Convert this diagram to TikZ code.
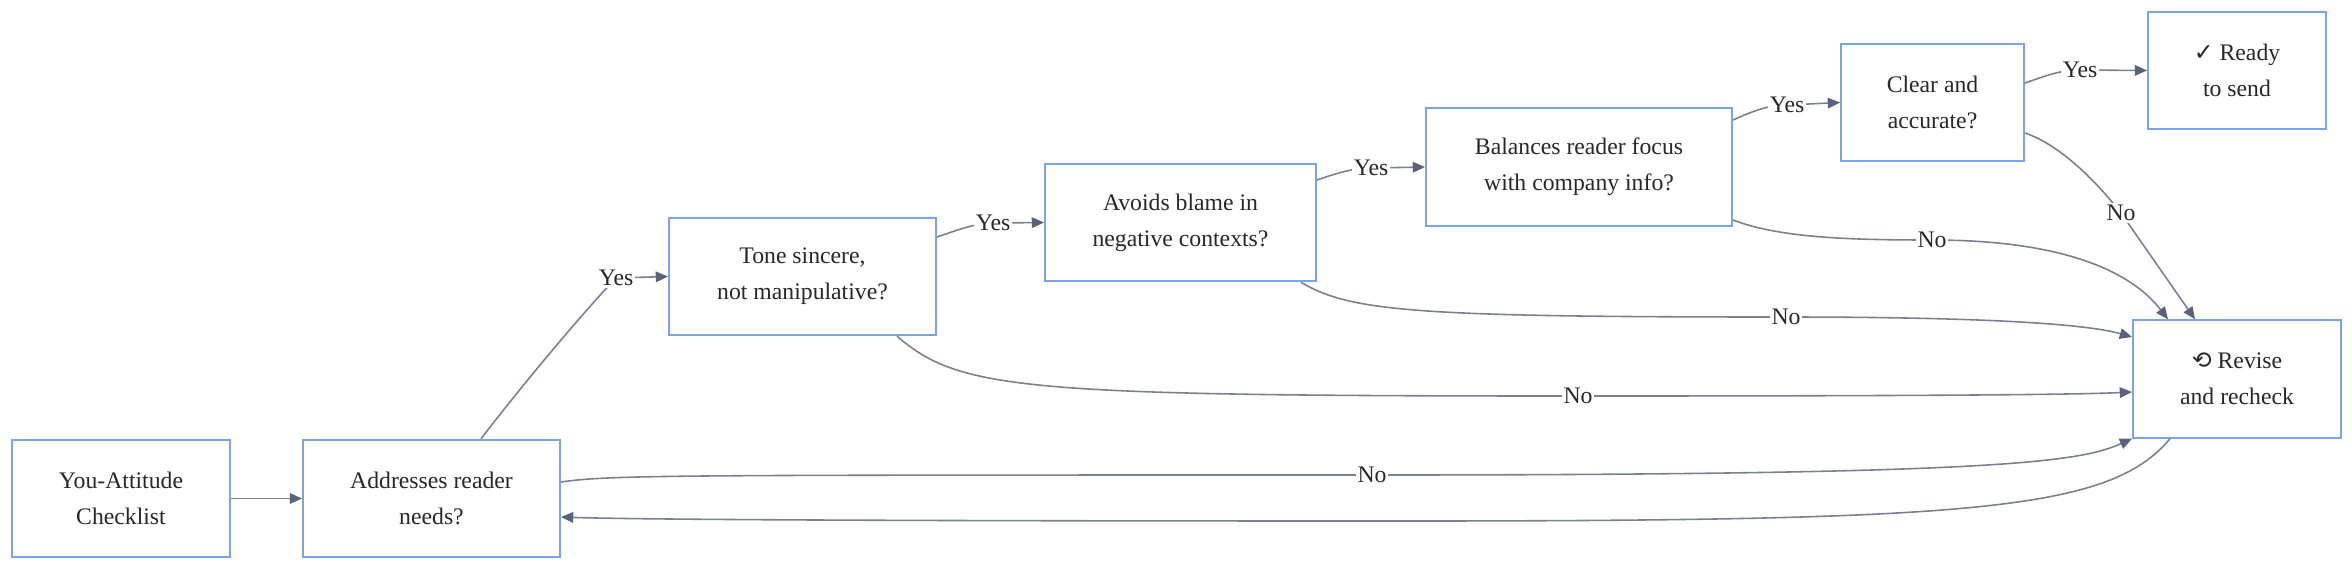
\documentclass[tikz,border=0pt]{standalone}
\usepackage{fontspec}
\setmainfont{Liberation Serif}
\newfontfamily\symfont{DejaVu Sans}
\usepackage{tikz}
\usetikzlibrary{arrows.meta,positioning,calc}
\definecolor{boxblue}{RGB}{122,162,238}
\definecolor{edgegray}{RGB}{120,128,148}
\definecolor{tipgray}{RGB}{88,98,122}
\definecolor{textgray}{RGB}{40,40,40}

\begin{document}
\begin{tikzpicture}[x=0.02cm, y=-0.02cm, >={Triangle[length=7pt,width=6pt,color=tipgray]},
  every node/.style={font=\fontsize{13.5}{20.5}\selectfont, text=textgray},
  box/.style={draw=boxblue, line width=1.1pt, fill=white, align=center, minimum height=2.35cm, inner sep=0pt},
  lbl/.style={fill=white, inner sep=1pt},
  edge/.style={->, draw=edgegray, line width=0.9pt}]
\useasboundingbox (0,0) rectangle (2352,569);
% checklist steps
\node[box, minimum width=4.36cm] (start) at (121,498.5) {You-Attitude\\Checklist};
\node[box, minimum width=5.14cm] (addr) at (431.5,498.5) {Addresses reader\\needs?};
\node[box, minimum width=5.34cm] (tone) at (802.5,276.5) {Tone sincere,\\not manipulative?};
\node[box, minimum width=5.42cm] (avoids) at (1180.5,222.5) {Avoids blame in\\negative contexts?};
\node[box, minimum width=6.12cm] (bal) at (1579,167) {Balances reader focus\\with company info?};
\node[box, minimum width=3.66cm] (clear) at (1932.5,102.5) {Clear and\\accurate?};
\node[box, minimum width=3.56cm] (ready) at (2237,70.5) {{\symfont ✓} Ready\\to send};
\node[box, minimum width=4.16cm] (revise) at (2237,379) {{\symfont ⟲} Revise\\and recheck};
% yes branch
\draw[edge] (start) -- (addr);
\draw[edge] ([xshift=0.99cm]addr.north) .. controls (530,375) and (590,305) .. (616,278) node[lbl] {Yes} -- (tone.west);
\draw[edge] ([yshift=0.79cm]tone.east) .. controls (955,231) and (975,223) .. (993,223) node[lbl] {Yes} -- (avoids.west);
\draw[edge] ([yshift=0.85cm]avoids.east) .. controls (1340,172) and (1355,168) .. (1371,168) node[lbl] {Yes} -- (bal.west);
\draw[edge] ([yshift=0.94cm]bal.east) .. controls (1755,110) and (1770,105) .. (1787,105) node[lbl] {Yes} -- (clear.west);
\draw[edge] ([yshift=0.39cm]clear.east) .. controls (2045,76) and (2060,70) .. (2080,70) node[lbl] {Yes} -- (ready.west);
% no branch
\draw[edge] ([yshift=-0.61cm]clear.east) .. controls (2060,145) and (2095,180) .. (2121,213) node[lbl] {No} -- ([xshift=-0.84cm]revise.north);
\draw[edge] ([yshift=-1.06cm]bal.east) .. controls (1780,238) and (1850,240) .. (1932,240) node[lbl] {No} .. controls (2060,240) and (2130,270) .. ([xshift=-1.38cm]revise.north);
\draw[edge] ([xshift=2.41cm]avoids.south) .. controls (1350,312) and (1420,317) .. (1786,317) node[lbl] {No} .. controls (2000,317) and (2090,325) .. ([yshift=0.84cm]revise.west);
\draw[edge] ([xshift=1.89cm]tone.south) .. controls (960,390) and (1020,396) .. (1578,396) node[lbl] {No} .. controls (2000,396) and (2090,394) .. ([yshift=-0.26cm]revise.west);
\draw[edge] ([yshift=0.33cm]addr.east) .. controls (610,475) and (660,475) .. (1372,475) node[lbl] {No} .. controls (2000,475) and (2080,462) .. (revise.south west);
% back to start of loop
\draw[edge] ([xshift=-1.34cm]revise.south) .. controls (2110,510) and (1980,521) .. (1400,521) .. controls (800,521) and (620,519) .. ([yshift=-0.37cm]addr.east);
\end{tikzpicture}
\end{document}
